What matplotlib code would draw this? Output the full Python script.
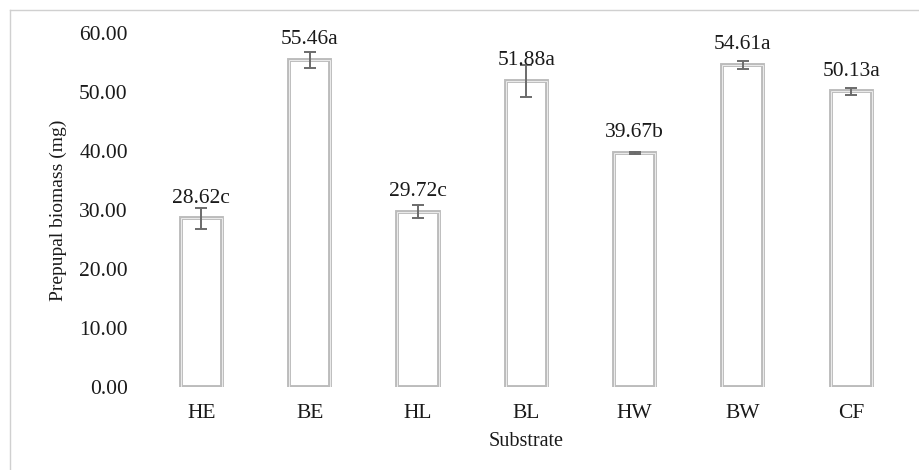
import matplotlib
matplotlib.use("Agg")
import matplotlib.pyplot as plt
from matplotlib.lines import Line2D

# data
substrates = ['HE', 'BE', 'HL', 'BL', 'HW', 'BW', 'CF']
biomass = [28.62, 55.46, 29.72, 51.88, 39.67, 54.61, 50.13]
errors = [1.8, 1.35, 1.1, 2.7, 0.25, 0.7, 0.6]
letters = ['c', 'a', 'c', 'a', 'b', 'a', 'a']
yticks = [0, 10, 20, 30, 40, 50, 60]

plt.rcParams['font.family'] = ['Liberation Serif', 'DejaVu Serif']

fig = plt.figure(figsize=(9.2, 4.7), dpi=100)
ax = fig.add_axes([0.16, 0.1766, 0.824, 0.753])

x = list(range(len(substrates)))
# double outline look: grey edge with a lighter line inside
ax.bar(x, biomass, width=0.38, color='white', edgecolor='#bcbcbc', linewidth=2.8, zorder=2)
ax.bar(x, biomass, width=0.38, color='none', edgecolor='#ececec', linewidth=0.7, zorder=3)
ax.errorbar(x, biomass, yerr=errors, fmt='none', ecolor='#6b6b6b',
            elinewidth=1.4, capsize=4, capthick=1.4, zorder=4)

for xi, v, l in zip(x, biomass, letters):
    ax.text(xi, v + 1.8, '%.2f%s' % (v, l), ha='center', va='bottom',
            fontsize=15.5, color='#1a1a1a', zorder=5)

ax.set_xlim(-0.5, 6.5)
ax.set_ylim(0, 60)
ax.set_yticks(yticks)
ax.set_yticklabels(['%.2f' % t for t in yticks])
ax.set_xticks(x)
ax.set_xticklabels(substrates)
ax.tick_params(axis='y', length=0, pad=14, labelsize=15.5, labelcolor='#1a1a1a')
ax.tick_params(axis='x', length=0, pad=12, labelsize=15.5, labelcolor='#1a1a1a')
for s in ax.spines.values():
    s.set_visible(False)

ax.set_ylabel('Prepupal biomass (mg)', fontsize=14, color='#1a1a1a', labelpad=9)
ax.set_xlabel('Substrate', fontsize=14.5, color='#1a1a1a', labelpad=7)

# light frame around the chart (only top and left show in the crop)
fig.add_artist(Line2D([10 / 920, 1.0], [1 - 10 / 470, 1 - 10 / 470],
                      transform=fig.transFigure, color='#d0d0d0', lw=1))
fig.add_artist(Line2D([10 / 920, 10 / 920], [0.0, 1 - 10 / 470],
                      transform=fig.transFigure, color='#d0d0d0', lw=1))

fig.savefig('out.png', dpi=100)
